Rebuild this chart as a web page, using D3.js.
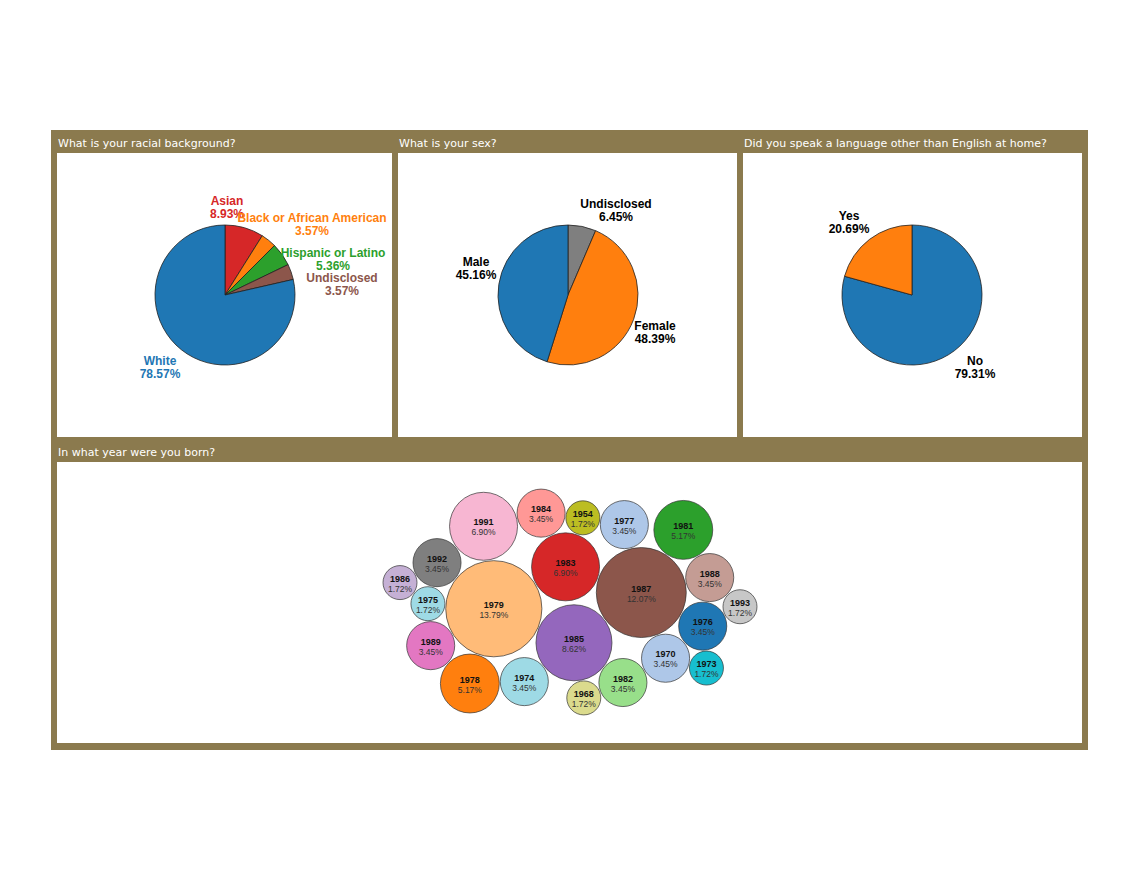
<!DOCTYPE html>
<html><head><meta charset="utf-8">
<script src="https://cdnjs.cloudflare.com/ajax/libs/d3/7.8.5/d3.min.js"></script>
<style>
body{margin:0;background:#fff;font-family:"Liberation Sans",Arial,sans-serif}
.ptitle{font-family:"DejaVu Sans",Verdana,sans-serif;font-size:11px;fill:#fff}
.lbl{font-size:12px;font-weight:bold}
.bt{font-size:9px;font-weight:bold;fill:#111}
.bp{font-size:8.5px;fill:#333}
</style></head>
<body>
<div id="chart"></div>
<script>
const BROWN = "#8b7a4e";

const race = [
  {label: "Asian", value: 8.93, color: "#d62728", text: "#d62728", dx: 2, dy: -90},
  {label: "Black or African American", value: 3.57, color: "#ff7f0e", text: "#ff7f0e", dx: 87, dy: -73},
  {label: "Hispanic or Latino", value: 5.36, color: "#2ca02c", text: "#2ca02c", dx: 108, dy: -38},
  {label: "Undisclosed", value: 3.57, color: "#8c564b", text: "#8c564b", dx: 117, dy: -13},
  {label: "White", value: 78.57, color: "#1f77b4", text: "#1f77b4", dx: -65, dy: 70}
];
const sex = [
  {label: "Undisclosed", value: 6.45, color: "#7f7f7f", text: "#000", dx: 48, dy: -87},
  {label: "Female", value: 48.39, color: "#ff7f0e", text: "#000", dx: 87, dy: 35},
  {label: "Male", value: 45.16, color: "#1f77b4", text: "#000", dx: -92, dy: -29}
];
const lang = [
  {label: "No", value: 79.31, color: "#1f77b4", text: "#000", dx: 63, dy: 70},
  {label: "Yes", value: 20.69, color: "#ff7f0e", text: "#000", dx: -63, dy: -75}
];

const years = [
  ["1979", 8, "#ffbb78"], ["1987", 7, "#8c564b"], ["1985", 5, "#9467bd"],
  ["1983", 4, "#d62728"], ["1991", 4, "#f7b6d2"], ["1978", 3, "#ff7f0e"],
  ["1981", 3, "#2ca02c"], ["1970", 2, "#aec7e8"], ["1992", 2, "#7f7f7f"],
  ["1989", 2, "#e377c2"], ["1988", 2, "#c49c94"], ["1976", 2, "#1f77b4"],
  ["1984", 2, "#ff9896"], ["1977", 2, "#aec7e8"], ["1982", 2, "#98df8a"],
  ["1974", 2, "#9edae5"], ["1975", 1, "#9edae5"], ["1986", 1, "#c5b0d5"],
  ["1993", 1, "#c7c7c7"], ["1954", 1, "#bcbd22"], ["1973", 1, "#17becf"],
  ["1968", 1, "#dbdb8d"]
].map(([year, n, color]) => ({year, n, color}));
const total = d3.sum(years, d => d.n);

const svg = d3.select("#chart").append("svg").attr("width", 1140).attr("height", 881);

// frame
svg.append("rect").attr("x", 51).attr("y", 130).attr("width", 1037).attr("height", 620).attr("fill", BROWN);
const panels = [
  {x: 57, y: 153, w: 335, h: 284, title: "What is your racial background?"},
  {x: 398, y: 153, w: 339, h: 284, title: "What is your sex?"},
  {x: 743, y: 153, w: 339, h: 284, title: "Did you speak a language other than English at home?"},
  {x: 57, y: 462, w: 1025, h: 281, title: "In what year were you born?"}
];
panels.forEach(p => {
  svg.append("rect").attr("x", p.x).attr("y", p.y).attr("width", p.w).attr("height", p.h).attr("fill", "#fff");
  svg.append("text").attr("class", "ptitle").attr("x", p.x + 1).attr("y", p.y - 6).text(p.title);
});

function drawPie(data, cx, cy) {
  const r = 70;
  const pie = d3.pie().sort(null).value(d => d.value);
  const arc = d3.arc().innerRadius(0).outerRadius(r);
  const g = svg.append("g").attr("transform", `translate(${cx},${cy})`);
  const arcs = pie(data);
  g.selectAll("path").data(arcs).enter().append("path")
    .attr("d", arc).attr("fill", d => d.data.color)
    .attr("stroke", "#222").attr("stroke-width", 0.8);
  const t = g.selectAll("text").data(arcs).enter().append("text")
    .attr("class", "lbl").attr("text-anchor", "middle")
    .attr("fill", d => d.data.text)
    .attr("transform", d => `translate(${d.data.dx},${d.data.dy})`);
  t.append("tspan").attr("x", 0).attr("dy", 0).text(d => d.data.label);
  t.append("tspan").attr("x", 0).attr("dy", 13).text(d => d.data.value.toFixed(2) + "%");
}
drawPie(race, 225, 295);
drawPie(sex, 568, 295);
drawPie(lang, 912, 295);

// bubbles: pack siblings compactly, then flatten a little to fit the panel
const rScale = d3.scaleSqrt().domain([0, 1]).range([0, 17]);
years.forEach(d => { d.r = rScale(d.n); });
d3.packSiblings(years);
const sim = d3.forceSimulation(years)
  .force("x", d3.forceX(0).strength(0.01))
  .force("y", d3.forceY(0).strength(0.05))
  .force("collide", d3.forceCollide(d => d.r + 0.5).iterations(4))
  .velocityDecay(0.5)
  .stop();
for (let i = 0; i < 200; i++) sim.tick();
const ex = d3.extent(years.flatMap(d => [d.x - d.r, d.x + d.r]));
const ey = d3.extent(years.flatMap(d => [d.y - d.r, d.y + d.r]));
const ox = 570 - (ex[0] + ex[1]) / 2, oy = 602 - (ey[0] + ey[1]) / 2;

const bg = svg.append("g").attr("transform", `translate(${ox},${oy})`);
const node = bg.selectAll("g").data(years).enter().append("g")
  .attr("transform", d => `translate(${d.x},${d.y})`);
node.append("circle").attr("r", d => d.r).attr("fill", d => d.color)
  .attr("stroke", "#333").attr("stroke-width", 0.7);
node.append("text").attr("class", "bt").attr("text-anchor", "middle").attr("y", -1).text(d => d.year);
node.append("text").attr("class", "bp").attr("text-anchor", "middle").attr("y", 9)
  .text(d => (d.n / total * 100).toFixed(2) + "%");
</script>
</body></html>
